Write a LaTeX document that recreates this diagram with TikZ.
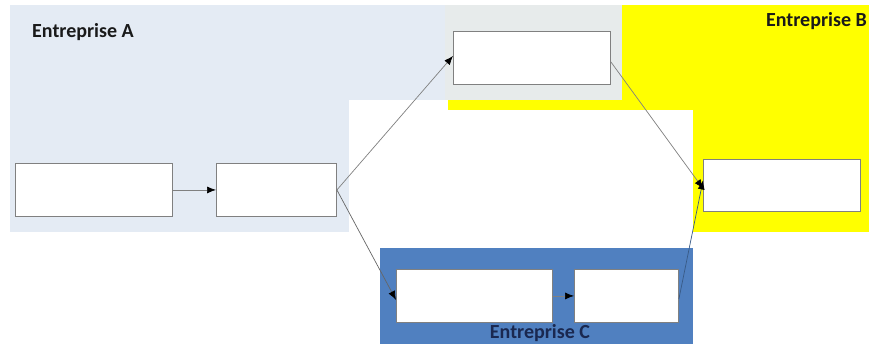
\documentclass[tikz,border=0pt]{standalone}
\usepackage{fontspec}
\setmainfont{Carlito}
\usetikzlibrary{arrows.meta}
\definecolor{aBlue}{HTML}{E4EBF4}
\definecolor{bYellow}{HTML}{FFFF00}
\definecolor{gGray}{HTML}{E7EBEB}
\definecolor{cBlue}{HTML}{5080C0}
\definecolor{boxLine}{HTML}{808080}
\definecolor{txtDark}{HTML}{1A1A1A}
\definecolor{txtNavy}{HTML}{1A2850}
\tikzset{
  wbox/.style={draw=boxLine, fill=white, line width=0.9pt, inner sep=0pt, anchor=north west},
  conn/.style={draw=boxLine, line width=0.7pt, -{Latex[length=9pt,width=7pt,color=black]}},
  lbl/.style={font=\fontsize{20}{21}\selectfont\bfseries, inner sep=0pt}
}
\begin{document}
\begin{tikzpicture}[x=1pt,y=-1pt]
\useasboundingbox (0,0) rectangle (871,344);
% background regions
\fill[aBlue] (10,5) rectangle (448,232);
\fill[bYellow] (448,5) rectangle (869,232);
\fill[gGray] (445,5) rectangle (622,100);
\fill[white] (349,100) rectangle (448,110);
\fill[white] (349,110) rectangle (693,248);
\fill[cBlue] (380,248) rectangle (693,344);
% labels
\node[lbl, text=txtDark, anchor=base west] (la) at (32,38) {Entreprise A};
\node[lbl, text=txtDark, anchor=base east] (lb) at (867,27) {Entreprise B};
\node[lbl, text=txtNavy, anchor=base] (lc) at (540,339) {Entreprise C};
% boxes
\node[wbox, minimum width=157pt, minimum height=53pt] (b1) at (15,163) {};
\node[wbox, minimum width=120pt, minimum height=53pt] (b2) at (216,163) {};
\node[wbox, minimum width=157pt, minimum height=53pt] (b3) at (453,31) {};
\node[wbox, minimum width=157pt, minimum height=52pt] (b4) at (703,159) {};
\node[wbox, minimum width=156pt, minimum height=53pt] (b5) at (396,269) {};
\node[wbox, minimum width=104pt, minimum height=53pt] (b6) at (574,269) {};
% connectors
\draw[conn] (b1.east) -- (b2.west);
\draw[conn] (b2.east) -- ([yshift=2pt]b3.west);
\draw[conn, draw=boxLine!80!black] (b2.east) -- ([yshift=-4pt]b5.west);
\draw[conn] ([yshift=-4pt]b3.east) -- ([yshift=-3pt]b4.west);
\draw[conn, draw=cBlue!70!black] ([yshift=-3pt]b6.east) -- ([yshift=5pt]b4.west);
\draw[conn] (b5.east) -- (b6.west);
\end{tikzpicture}
\end{document}
